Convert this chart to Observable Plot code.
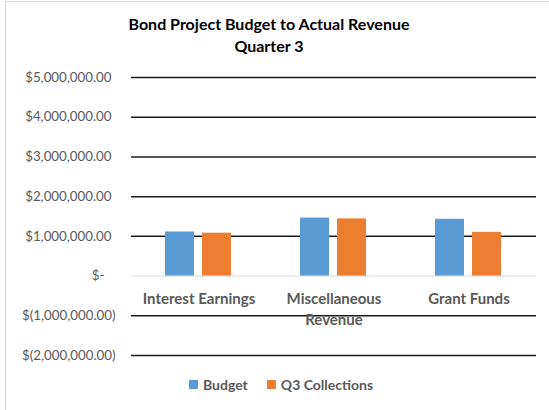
<!DOCTYPE html>
<html><head><meta charset="utf-8">
<script src="https://cdn.jsdelivr.net/npm/d3@7"></script>
<script src="https://cdn.jsdelivr.net/npm/@observablehq/plot@0.6"></script>
<style>
body{margin:0;background:#fff;font-family:Lato,sans-serif}
#wrap{position:relative;width:549px;height:410px;overflow:hidden;background:#fff}
#frame{position:absolute;left:5px;top:1px;width:600px;height:600px;border-left:1px solid #d9d9d9;border-top:1px solid #d9d9d9;pointer-events:none}
#chart{position:absolute;left:0;top:0}
#title{position:absolute;left:0;width:538px;top:13px;text-align:center;font-weight:bold;font-size:16px;line-height:22px;color:#000}
#legend{position:absolute;top:376px;left:189px;display:flex;align-items:center;font-weight:bold;font-size:14px;color:#595959}
#legend .sw{display:inline-block;width:9px;height:9px;margin-right:5px}
#legend .it{display:flex;align-items:center;margin-right:19px}
</style></head>
<body>
<div id="wrap">
  <div id="chart"></div>
  <div id="title">Bond Project Budget to Actual Revenue<br>Quarter 3</div>
  <div id="legend"></div>
  <div id="frame"></div>
</div>
<script>
const categories = ["Interest Earnings", "Miscellaneous Revenue", "Grant Funds"];
const series = ["Budget", "Q3 Collections"];
const budget = [1110000, 1460000, 1430000];
const q3Collections = [1080000, 1440000, 1100000];
const yTicks = [-2000000, -1000000, 0, 1000000, 2000000, 3000000, 4000000, 5000000];
const colors = ["#5B9BD5", "#ED7D31"];

const rows = categories.flatMap((c, i) => [
  {category: c, series: series[0], value: budget[i]},
  {category: c, series: series[1], value: q3Collections[i]}
]);

const money = d3.format(",.2f");
const fmt = v => v === 0 ? "$-" : v < 0 ? "$(" + money(-v) + ")" : "$" + money(v);

const labelStyle = {tickSize: 0, tickFormat: fmt, fill: "#595959", fontSize: 13.3, textAnchor: "end", label: null};

const chart = Plot.plot({
  width: 549,
  height: 410,
  marginLeft: 130,
  marginRight: 12,
  marginTop: 77,
  marginBottom: 55,
  style: {fontFamily: "Lato, sans-serif", background: "transparent"},
  fx: {domain: categories, padding: 0, axis: null},
  x: {domain: series, paddingInner: 0.21, paddingOuter: 0.89, axis: null},
  y: {domain: [-2000000, 5000000], axis: null},
  color: {domain: series, range: colors},
  marks: [
    Plot.ruleY(yTicks.filter(v => v !== 0), {stroke: "#1a1a1a", strokeWidth: 1.5}),
    Plot.ruleY([0], {stroke: "#d9d9d9", strokeWidth: 1}),
    Plot.barY(rows, {fx: "category", x: "series", y: "value", fill: "series"}),
    Plot.axisY(yTicks.filter(v => v > 0), {...labelStyle, tickPadding: 20}),
    Plot.axisY(yTicks.filter(v => v === 0), {...labelStyle, tickPadding: 27}),
    Plot.axisY(yTicks.filter(v => v < 0), {...labelStyle, tickPadding: 16}),
    Plot.text(categories, {
      fx: d => d, y: () => 0, text: d => d,
      lineAnchor: "top", dy: 12, lineWidth: 9, lineHeight: 1.45,
      fontWeight: "bold", fontSize: 15, fill: "#595959"
    })
  ]
});
document.getElementById("chart").appendChild(chart);

const legend = document.getElementById("legend");
series.forEach((s, i) => {
  const it = document.createElement("span");
  it.className = "it";
  const sw = document.createElement("span");
  sw.className = "sw";
  sw.style.background = colors[i];
  it.appendChild(sw);
  it.appendChild(document.createTextNode(s));
  legend.appendChild(it);
});
</script>
</body></html>
